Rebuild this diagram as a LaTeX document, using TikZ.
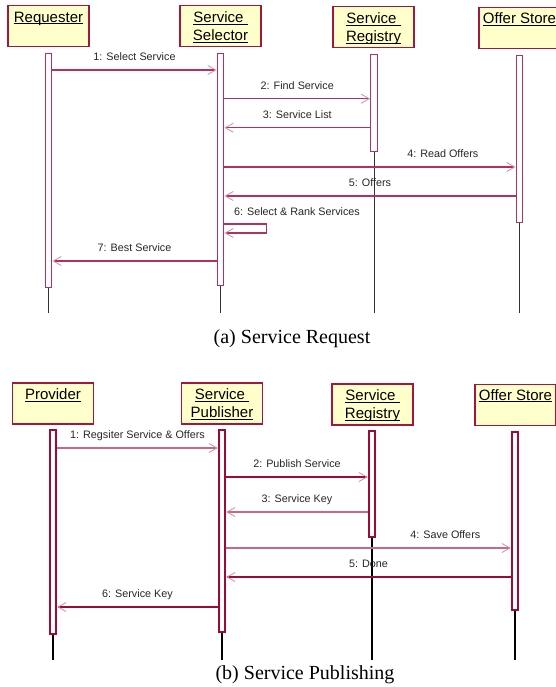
\documentclass[tikz,border=0pt]{standalone}
\usepackage{fontspec}
\setmainfont{Liberation Serif}
\setsansfont{Liberation Sans}
\usetikzlibrary{positioning,arrows.meta}

\definecolor{boxred}{HTML}{A3173F}
\definecolor{boxfill}{HTML}{FFFFCC}
\definecolor{msgred}{HTML}{B5305E}
\definecolor{darkmsg}{HTML}{9E0A36}
\definecolor{lightmsg}{HTML}{C9668A}
\definecolor{tippink}{HTML}{D88AA5}

% underlined object name in a lifeline head
\newcommand\objname[1]{\setbox0\hbox{#1}\rlap{\rule[-2.4pt]{\wd0}{1.4pt}}\box0}

\tikzset{
  lifebox/.style={draw=boxred, fill=boxfill, line width=1.5pt, minimum width=81pt,
    minimum height=41pt, inner sep=0pt, anchor=north},
  boxtext/.style={font=\sffamily\fontsize{15}{18}\selectfont, align=center, inner sep=0pt},
  actbar/.style={draw=msgred, fill=white, line width=1.4pt, minimum width=6.5pt,
    inner sep=0pt, anchor=north},
  actbarb/.style={actbar, draw=darkmsg, line width=2pt},
  life/.style={black!80, line width=1pt},
  lifeb/.style={black, line width=2pt},
  msg/.style={msgred, line width=1.2pt,
    -{Straight Barb[length=8pt,width=9pt,line width=0.8pt,color=tippink]}},
  msgthick/.style={msg, darkmsg, line width=2.2pt},
  msgthin/.style={msg, lightmsg},
  msgtext/.style={text=black!85, font=\sffamily\fontsize{10.8}{12}\selectfont,
    inner sep=0pt, text depth=0pt},
  msglabel/.style={msgtext, above=8.5pt},
  figcaption/.style={font=\fontsize{20}{24}\selectfont, inner sep=0pt}
}

\begin{document}
\begin{tikzpicture}[x=1pt,y=-1pt]
\useasboundingbox (0,0) rectangle (556,687);

% (a) request
\node[lifebox] (req) at (48.5,5) {};
\node[lifebox] (sel) at (220.5,5) {};
\node[lifebox] (reg) at (373.5,6) {};
\node[lifebox] (store) at (519.5,7) {};
\node[boxtext, below=6.5pt of req.north] (reqtxt) {\objname{Requester}};
\node[boxtext, below=6.5pt of sel.north] (seltxt) {\objname{Service\ }\\\objname{Selector}};
\node[boxtext, below=6.5pt of reg.north] (regtxt) {\objname{Service\ }\\\objname{Registry}};
\node[boxtext, below=5.5pt of store.north] (storetxt) {\objname{Offer Store}};

\node[actbar, minimum height=234pt] (reqbar) at (48.5,53) {};
\node[actbar, minimum height=232pt] (selbar) at (220.5,53) {};
\node[actbar, minimum height=97pt] (regbar) at (374,54) {};
\node[actbar, minimum height=167pt] (storebar) at (519.5,55) {};

\coordinate (reqend) at (48.5,313);
\coordinate (selend) at (220.5,313);
\coordinate (regend) at (374,313);
\coordinate (storeend) at (519.5,313);
\draw[life] (reqbar.south) -- (reqend);
\draw[life] (selbar.south) -- (selend);
\draw[life] (regbar.south) -- (regend);
\draw[life] (storebar.south) -- (storeend);

\draw[msg] (reqbar.east |- 0,70) -- (selbar.west |- 0,70)
  node[msglabel, midway] {1: Select Service};
\draw[msg] (selbar.east |- 0,98.7) -- (regbar.west |- 0,98.7)
  node[msglabel, midway] {2: Find Service};
\draw[msg] (regbar.west |- 0,127.7) -- (selbar.east |- 0,127.7)
  node[msglabel, midway] {3: Service List};
\draw[msg] (selbar.east |- 0,167) -- (storebar.west |- 0,167)
  node[msglabel, pos=0.75] {4: Read Offers};
\draw[msg] (storebar.west |- 0,196) -- (selbar.east |- 0,196)
  node[msglabel, midway] {5: Offers};
\draw[msg] (selbar.east |- 0,224)
  node[msgtext, anchor=base west, xshift=9pt, yshift=8.5pt] {6: Select \& Rank Services}
  -- ++(42,0) -- ++(0,9) -- (selbar.east |- 0,233);
\draw[msg] (selbar.west |- 0,261) -- (reqbar.east |- 0,261)
  node[msglabel, midway] {7: Best Service};

\node[figcaption] (capa) at (292,339) {(a) Service Request};

% (b) publishing
\node[lifebox] (prov) at (53,382) {};
\node[lifebox] (pub) at (222,382) {};
\node[lifebox] (regb) at (372.5,383) {};
\node[lifebox] (storeb) at (515.5,383.5) {};
\node[boxtext, below=6.5pt of prov.north] (provtxt) {\objname{Provider}};
\node[boxtext, below=6.5pt of pub.north] (pubtxt) {\objname{Service\ }\\\objname{Publisher}};
\node[boxtext, below=6.5pt of regb.north] (regbtxt) {\objname{Service\ }\\\objname{Registry}};
\node[boxtext, below=5.5pt of storeb.north] (storebtxt) {\objname{Offer Store}};

\node[actbarb, minimum height=204pt] (provbar) at (53,429) {};
\node[actbarb, minimum height=202pt] (pubbar) at (222,429) {};
\node[actbarb, minimum height=106pt] (regbbar) at (372,430) {};
\node[actbarb, minimum height=178pt] (storebbar) at (515,431) {};

\coordinate (provend) at (53,660);
\coordinate (pubend) at (222,660);
\coordinate (regbend) at (372,660);
\coordinate (storebend) at (515,660);
\draw[lifeb] (provbar.south) -- (provend);
\draw[lifeb] (pubbar.south) -- (pubend);
\draw[lifeb] (regbbar.south) -- (regbend);
\draw[lifeb] (storebbar.south) -- (storebend);

\draw[msgthin] (provbar.east |- 0,448) -- (pubbar.west |- 0,448)
  node[msglabel, midway] {1: Regsiter Service \& Offers};
\draw[msgthick] (pubbar.east |- 0,477) -- (regbbar.west |- 0,477)
  node[msglabel, midway] {2: Publish Service};
\draw[msgthin] (regbbar.west |- 0,512) -- (pubbar.east |- 0,512)
  node[msglabel, midway] {3: Service Key};
\draw[msgthin] (pubbar.east |- 0,548) -- (storebbar.west |- 0,548)
  node[msglabel, pos=0.77] {4: Save Offers};
\draw[msgthick] (storebbar.west |- 0,577) -- (pubbar.east |- 0,577)
  node[msglabel, midway] {5: Done};
\draw[msgthick] (pubbar.west |- 0,607) -- (provbar.east |- 0,607)
  node[msglabel, midway] {6: Service Key};

\node[figcaption] (capb) at (305,675) {(b) Service Publishing};
\end{tikzpicture}
\end{document}
